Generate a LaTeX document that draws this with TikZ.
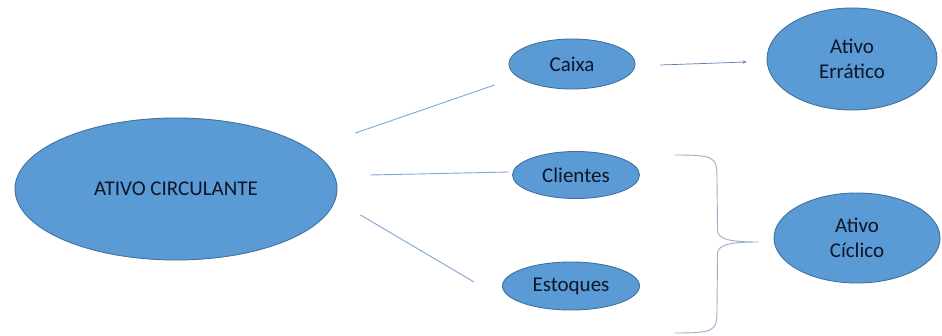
\documentclass[tikz,border=0pt]{standalone}
\usepackage{fontspec}
\setmainfont{Carlito}
\usetikzlibrary{shapes.geometric,calc,arrows.meta}
\definecolor{ofill}{HTML}{5B9BD5}
\definecolor{oline}{HTML}{41719C}
\definecolor{otext}{HTML}{0E1628}
\definecolor{conn}{HTML}{7FA7D6}
\definecolor{arr}{HTML}{5A7FA8}
\definecolor{brc}{HTML}{9AAFC8}
\tikzset{
  blob/.style={ellipse, fill=ofill, draw=oline, line width=0.9pt, inner sep=0pt,
    text=otext, font=\fontsize{21}{25}\selectfont, align=center},
  link/.style={draw=conn, line width=0.9pt},
}
\begin{document}
\begin{tikzpicture}[x=1pt,y=-1pt]
\path[use as bounding box, fill=white] (0,0) rectangle (942,336);
\node[blob, minimum width=322, minimum height=142] (ac) at (176,189) {ATIVO CIRCULANTE};
\node[blob, minimum width=126, minimum height=50] (caixa) at (572,64) {Caixa};
\node[blob, minimum width=127, minimum height=47] (cli) at (576,175) {Clientes};
\node[blob, minimum width=137, minimum height=48] (est) at (571,286) {Estoques};
\node[blob, minimum width=170, minimum height=102] (err) at (852,59) {Ativo\\Errático};
\node[blob, minimum width=166, minimum height=90] (cic) at (857,238) {Ativo\\Cíclico};
\draw[link] ($(ac.east)+(18,-56)$) -- ($(caixa.west)+(-14,21)$);
\draw[link] ($(ac.east)+(33,-14)$) -- ($(cli.west)+(-3,-3)$);
\draw[link] ($(ac.east)+(23,26)$) -- ($(est.west)+(-28,-4)$);
\draw[draw=arr, line width=0.7pt, -{Stealth[length=4pt,width=3.5pt]}] ($(caixa.east)+(25,1)$) -- ($(err.west)+(-20,3)$);
\coordinate (bt) at ($(cli.east)+(35,-20)$);
\coordinate (bb) at ($(est.east)+(35,47)$);
\coordinate (tip) at ($(cic.west)+(-15,4)$);
\draw[draw=brc, line width=0.9pt]
  (bt) .. controls ($(bt)+(38,0)$) and ($(bt)+(42,2)$) .. ($(bt)+(42,20)$)
  -- ($(tip)+(-41,-12)$) .. controls ($(tip)+(-41,-3)$) and ($(tip)+(-30,0)$) .. (tip)
  .. controls ($(tip)+(-30,0)$) and ($(tip)+(-41,3)$) .. ($(tip)+(-41,12)$)
  -- ($(bb)+(42,-20)$) .. controls ($(bb)+(42,-2)$) and ($(bb)+(38,0)$) .. (bb);
\end{tikzpicture}
\end{document}
